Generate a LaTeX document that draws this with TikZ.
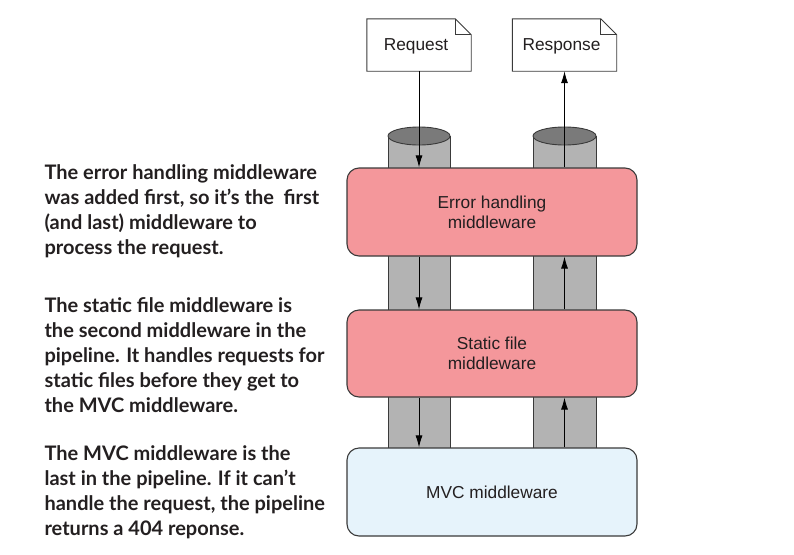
\documentclass[tikz,border=0pt]{standalone}
\usepackage{fontspec}
\setmainfont{Liberation Sans}
\newfontfamily\notefont{Lato}
\usetikzlibrary{arrows.meta}
\definecolor{pinkfill}{HTML}{F4979B}
\definecolor{bluefill}{HTML}{E6F3FB}
\definecolor{edge}{HTML}{3A3A3A}
\definecolor{pipegray}{HTML}{B3B3B3}
\definecolor{capgray}{HTML}{7A7A7A}
\definecolor{txt}{HTML}{231F20}
\tikzset{
  mwbox/.style={draw=edge, line width=1.1pt, rounded corners=12pt, minimum width=290pt, align=center, text=txt, font=\fontsize{17.3}{20}\selectfont},
  docbox/.style={minimum width=104pt, minimum height=52pt},
  doctext/.style={text=txt, font=\fontsize{17.3}{20}\selectfont},
  docline/.style={draw=edge, line width=0.9pt, fill=white, line join=miter},
  flow/.style={draw=black, line width=0.9pt, -{Latex[length=12pt,width=7pt]}},
  note/.style={anchor=north west, align=left, text=txt, font=\notefont\bfseries\fontsize{20}{25}\selectfont},
  pipeside/.style={draw=edge, line width=0.9pt}
}
\begin{document}
\begin{tikzpicture}[x=1pt,y=-1pt]
\useasboundingbox (0,0) rectangle (794,554);
% pipes
\fill[pipegray] (388,136) rectangle (450,448);
\fill[pipegray] (533,136) rectangle (596,448);
\draw[pipeside] (388,136) -- (388,448);
\draw[pipeside] (450,136) -- (450,448);
\draw[pipeside] (533,136) -- (533,448);
\draw[pipeside] (596,136) -- (596,448);
\draw[pipeside, fill=capgray] (419,136) ellipse [x radius=31pt, y radius=9pt];
\draw[pipeside, fill=capgray] (564.5,136) ellipse [x radius=31.5pt, y radius=9pt];
% boxes
\node[mwbox, fill=pinkfill, minimum height=88pt] (err) at (492,212) {Error handling\\middleware};
\node[mwbox, fill=pinkfill, minimum height=87pt] (sfm) at (492,353.5) {Static file\\middleware};
\node[mwbox, fill=bluefill, minimum height=88pt] (mvc) at (492,492) {MVC middleware};
% documents
\node[docbox] (req) at (419,45) {};
\node[docbox] (res) at (564.5,45) {};
\foreach \d in {req,res}{
  \draw[docline] (\d.north west) -- ([xshift=-16pt]\d.north east) -- ([yshift=-16pt]\d.north east) -- (\d.south east) -- (\d.south west) -- cycle;
  \draw[docline, fill=none] ([xshift=-16pt]\d.north east) -- ([xshift=-16pt,yshift=-16pt]\d.north east) -- ([yshift=-16pt]\d.north east);
}
\node[doctext] (reqt) at ([xshift=-3pt,yshift=-1pt]req.center) {Request};
\node[doctext] (rest) at ([xshift=-3pt,yshift=-1pt]res.center) {Response};
% arrows
\draw[flow] (req.south) -- (err.north -| req.south);
\draw[flow] (err.south -| req.south) -- (sfm.north -| req.south);
\draw[flow] (sfm.south -| req.south) -- (mvc.north -| req.south);
\draw[flow] (err.north -| res.south) -- (res.south);
\draw[flow] (sfm.north -| res.south) -- (err.south -| res.south);
\draw[flow] (mvc.north -| res.south) -- (sfm.south -| res.south);
% notes
\node[note] (n1) at (41,161) {The error handling middleware\\was added first, so it’s the\ \ first\\(and last) middleware to\\process the request.};
\node[note] (n2) at (41,294) {The static file middleware is\\the second middleware in the\\pipeline. It handles requests for\\static files before they get to\\the MVC middleware.};
\node[note] (n3) at (41,442) {The MVC middleware is the\\last in the pipeline. If it can’t\\handle the request, the pipeline\\returns a 404 reponse.};
\end{tikzpicture}
\end{document}
